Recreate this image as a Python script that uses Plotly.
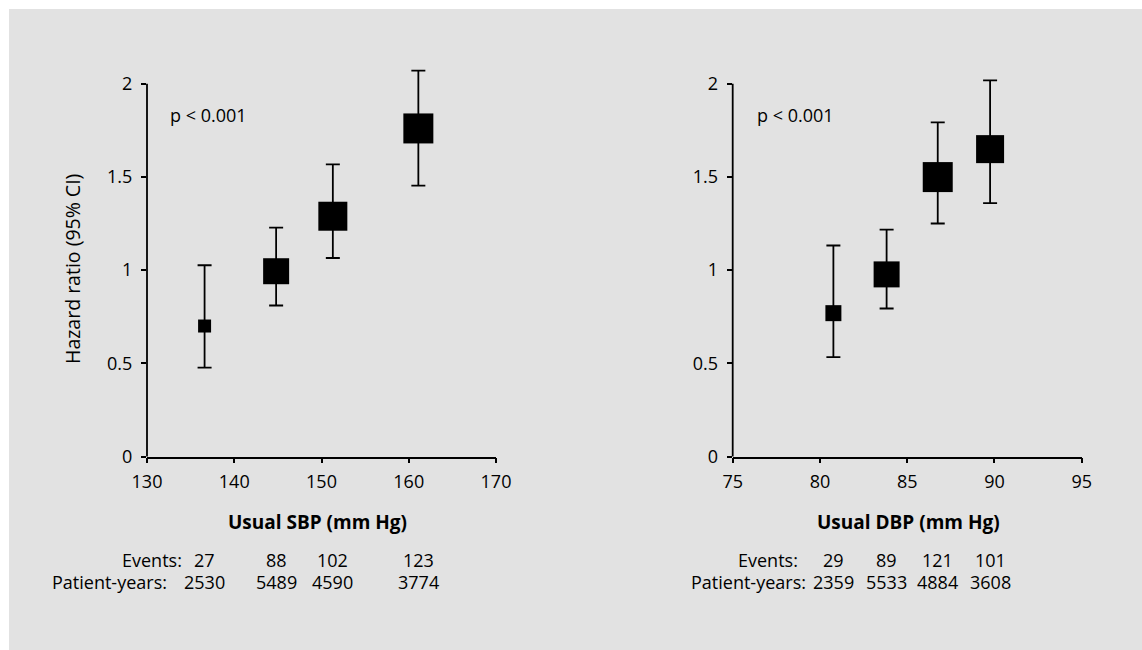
import plotly.graph_objects as go

# ---- data ----
sbp_x = [136.6, 144.8, 151.3, 161.1]
sbp_hr = [0.70, 0.994, 1.289, 1.76]
sbp_lo = [0.477, 0.81, 1.065, 1.453]
sbp_hi = [1.026, 1.228, 1.567, 2.07]
sbp_size = [13, 26, 29, 30]
sbp_events = ["27", "88", "102", "123"]
sbp_py = ["2530", "5489", "4590", "3774"]

dbp_x = [80.77, 83.82, 86.75, 89.75]
dbp_hr = [0.769, 0.977, 1.499, 1.649]
dbp_lo = [0.533, 0.794, 1.25, 1.359]
dbp_hi = [1.132, 1.217, 1.792, 2.018]
dbp_size = [16, 26, 30, 28]
dbp_events = ["29", "89", "121", "101"]
dbp_py = ["2359", "5533", "4884", "3608"]

y_ticks = [0, 0.5, 1, 1.5, 2]
sbp_ticks = [130, 140, 150, 160, 170]
dbp_ticks = [75, 80, 85, 90, 95]

W, H = 1142, 650
FONT = "Open Sans"
FS = 18
LW = 1.8

def px(x):
    return x / W

def py(y):
    return 1 - y / H

fig = go.Figure()

for xs, hr, lo, hi, sz, xa, ya in [
    (sbp_x, sbp_hr, sbp_lo, sbp_hi, sbp_size, "x", "y"),
    (dbp_x, dbp_hr, dbp_lo, dbp_hi, dbp_size, "x2", "y2"),
]:
    fig.add_trace(go.Scatter(
        x=xs, y=hr, xaxis=xa, yaxis=ya, mode="markers",
        marker=dict(symbol="square", size=sz, color="black", opacity=1, line=dict(width=0)),
        error_y=dict(type="data", symmetric=False,
                     array=[h - v for h, v in zip(hi, hr)],
                     arrayminus=[v - l for v, l in zip(hr, lo)],
                     color="black", thickness=LW, width=7),
        cliponaxis=False, showlegend=False, hoverinfo="skip",
    ))

y_dom = [py(456.5), py(456.5 - 2.1 * 186.4)]
axis_common = dict(showgrid=False, zeroline=False, ticks="outside", ticklen=5,
                   tickcolor="black", tickwidth=LW, linecolor="black", linewidth=LW,
                   tickfont=dict(family=FONT, size=FS, color="black"), automargin=False)

fig.update_layout(
    width=W, height=H, margin=dict(l=0, r=0, t=0, b=0),
    paper_bgcolor="white", plot_bgcolor="rgba(0,0,0,0)",
    font=dict(family=FONT, size=FS, color="black"),
    xaxis=dict(domain=[px(147), px(496)], range=[130, 170], tickvals=sbp_ticks,
               showline=True, anchor="y", ticklabelstandoff=3, **axis_common),
    yaxis=dict(domain=y_dom, range=[0, 2.1], tickvals=y_ticks, showline=False,
               anchor="x", ticklabelstandoff=5, **axis_common),
    xaxis2=dict(domain=[px(732.7), px(1081.7)], range=[75, 95], tickvals=dbp_ticks,
                showline=True, anchor="y2", ticklabelstandoff=3, **axis_common),
    yaxis2=dict(domain=y_dom, range=[0, 2.1], tickvals=y_ticks, showline=False,
                anchor="x2", ticklabelstandoff=5, **axis_common),
)

shapes = [
    dict(type="rect", xref="paper", yref="paper", x0=px(9), x1=1.0, y0=0, y1=py(9),
         fillcolor="#e2e2e2", line=dict(width=0), layer="below"),
    dict(type="line", xref="x domain", yref="y", x0=0, x1=0, y0=-0.025, y1=2,
         line=dict(color="black", width=LW)),
    dict(type="line", xref="x2 domain", yref="y2", x0=0, x1=0, y0=-0.025, y1=2,
         line=dict(color="black", width=LW)),
]
fig.update_layout(shapes=shapes)

ann = []
# p-values
ann.append(dict(text="p < 0.001", xref="paper", yref="paper", x=px(168), y=py(115),
                xanchor="left", yanchor="middle", showarrow=False))
ann.append(dict(text="p < 0.001", xref="paper", yref="paper", x=px(755), y=py(115),
                xanchor="left", yanchor="middle", showarrow=False))
# y title
ann.append(dict(text="Hazard ratio (95% CI)", xref="paper", yref="paper", x=px(72), y=py(269),
                xanchor="center", yanchor="middle", textangle=-90, showarrow=False,
                font=dict(size=19.5)))
# x titles
ann.append(dict(text="<b>Usual SBP (mm Hg)</b>", xref="paper", yref="paper", x=px(317), y=py(522),
                xanchor="center", yanchor="middle", showarrow=False, font=dict(size=19)))
ann.append(dict(text="<b>Usual DBP (mm Hg)</b>", xref="paper", yref="paper", x=px(908), y=py(522),
                xanchor="center", yanchor="middle", showarrow=False, font=dict(size=19)))

# tables
for ev_x, py_x, xs, ev, pyr, xa in [
    (184, 169, sbp_x, sbp_events, sbp_py, "x"),
    (800, 808, dbp_x, dbp_events, dbp_py, "x2"),
]:
    ann.append(dict(text="Events:", xref="paper", yref="paper", x=px(ev_x), y=py(560),
                    xanchor="right", yanchor="middle", showarrow=False))
    ann.append(dict(text="Patient-years:", xref="paper", yref="paper", x=px(py_x), y=py(582),
                    xanchor="right", yanchor="middle", showarrow=False))
    for xv, e, p in zip(xs, ev, pyr):
        ann.append(dict(text=e, xref=xa, yref="paper", x=xv, y=py(560),
                        xanchor="center", yanchor="middle", showarrow=False))
        ann.append(dict(text=p, xref=xa, yref="paper", x=xv, y=py(582),
                        xanchor="center", yanchor="middle", showarrow=False))

fig.update_layout(annotations=ann)
fig.write_html("out.html")
